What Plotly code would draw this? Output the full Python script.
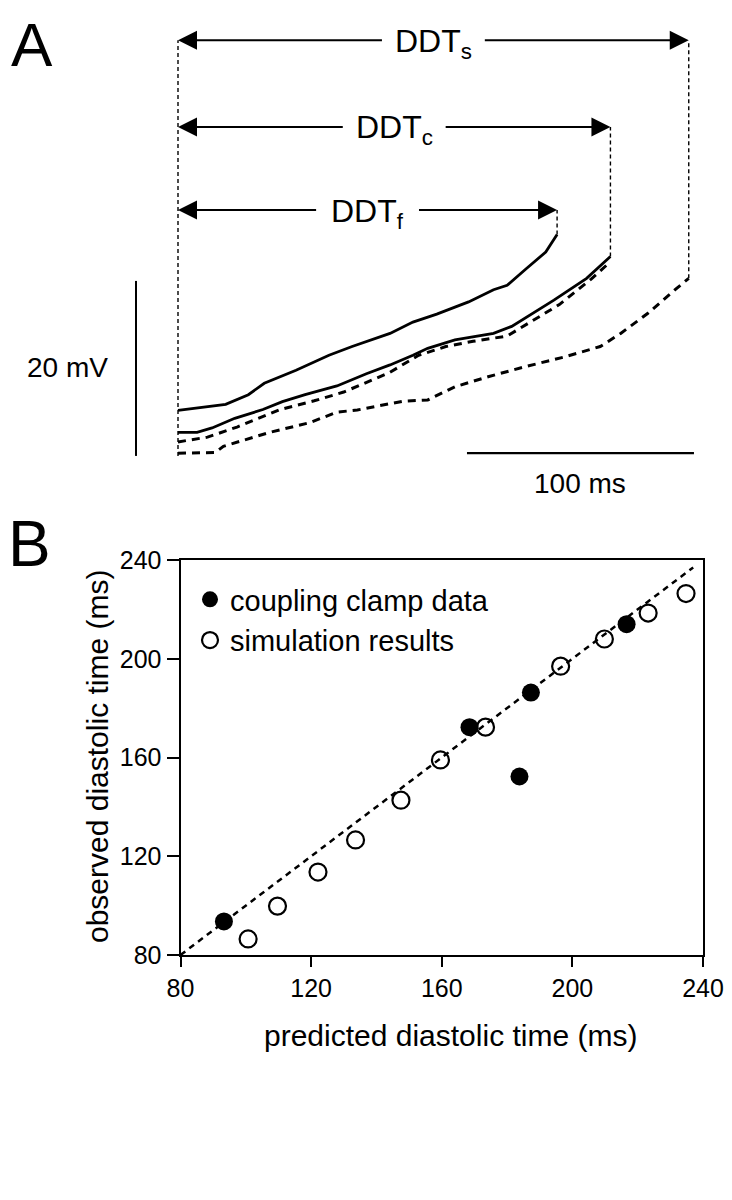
import plotly.graph_objects as go

# ---------------- Panel A data (time in ms from start of diastole, potential in mV) ----------------
t_fast = [0, 17, 21, 31, 38, 52, 66.5, 76.7, 87.2, 93.4, 103.5, 114, 122, 128, 139, 145, 153, 162, 167]
v_fast = [4.9, 5.4, 5.6, 6.7, 8.0, 9.5, 11.2, 12.2, 13.1, 13.7, 15.0, 15.9, 16.7, 17.3, 18.7, 19.2, 21.0, 23.0, 25.0]

t_ctrl = [0, 8.4, 15, 25, 37.4, 46, 56, 70, 83, 93.4, 103.5, 110, 122, 139, 147, 155, 165.6, 180, 190.5]
v_ctrl = [2.4, 2.4, 2.9, 4.0, 5.0, 5.9, 6.7, 7.7, 9.1, 10.1, 11.2, 12.0, 12.95, 13.7, 14.5, 15.8, 17.5, 20.0, 22.5]

t_sim = [0, 13, 26, 45, 60, 73, 93, 106, 118, 130, 145, 155, 168, 182, 190.5]
v_sim = [1.3, 1.85, 3.0, 5.0, 6.0, 7.0, 9.2, 11.2, 12.2, 12.8, 13.4, 15.0, 17.0, 19.9, 21.9]

t_slow = [0, 16.5, 20, 29, 40.5, 58, 70, 79, 99, 110, 122, 136.6, 153, 170, 186, 195, 207, 219, 225]
v_slow = [0, 0.1, 0.8, 1.5, 2.4, 3.5, 4.7, 4.95, 5.95, 6.1, 7.6, 8.75, 9.9, 11.0, 12.2, 13.7, 16.0, 18.7, 20.0]

ddt_labels = ["DDT<sub>f</sub>", "DDT<sub>c</sub>", "DDT<sub>s</sub>"]
ddt_values = [t_fast[-1], t_ctrl[-1], t_slow[-1]]
ddt_ends = [v_fast[-1], v_ctrl[-1], v_slow[-1]]
ddt_levels = [27.8, 37.3, 47.2]   # vertical placement of the arrows (mV units)

scale_ms = 100
scale_mv = 20

# ---------------- Panel B data ----------------
clamp_pred = [93.3, 168.5, 183.8, 187.3, 216.6]
clamp_obs = [93.6, 172.3, 152.3, 186.3, 214.0]
sim_pred = [100.7, 109.7, 122.1, 133.6, 147.5, 159.6, 173.4, 196.4, 209.8, 223.2, 234.8]
sim_obs = [86.5, 99.8, 113.6, 126.6, 142.7, 159.0, 172.3, 197.0, 208.0, 218.5, 226.4]
identity = [80, 237]
b_ticks = [80, 120, 160, 200, 240]

FONT = "Liberation Sans"
W, H = 732, 1200
OFF = 8  # page offset of the plot inside the browser window


def px(sx):
    return (sx - OFF) / W


def py(sy):
    return 1 - (sy - OFF) / H


# panel A scale: screen x = 178 + 2.27*t ; screen y = 453.3 - 8.75*v
A_X0, A_XS = 178.0, 2.27
A_Y0, A_YS = 453.3, 8.75
a_xrange = [(OFF - A_X0) / A_XS, (OFF + W - A_X0) / A_XS]
a_yrange = [(A_Y0 - (OFF + 500)) / A_YS, (A_Y0 - OFF) / A_YS]

fig = go.Figure()

solid = dict(color="black", width=2.8)
dashed = dict(color="black", width=3, dash="8px,6px")
fig.add_trace(go.Scatter(x=t_fast, y=v_fast, mode="lines", line=solid, showlegend=False, xaxis="x", yaxis="y"))
fig.add_trace(go.Scatter(x=t_ctrl, y=v_ctrl, mode="lines", line=solid, showlegend=False, xaxis="x", yaxis="y"))
fig.add_trace(go.Scatter(x=t_sim, y=v_sim, mode="lines", line=dashed, showlegend=False, xaxis="x", yaxis="y"))
fig.add_trace(go.Scatter(x=t_slow, y=v_slow, mode="lines", line=dashed, showlegend=False, xaxis="x", yaxis="y"))

thin_dash = dict(color="black", width=1.4, dash="4px,3px")
fig.add_trace(go.Scatter(x=[0, 0], y=[-0.3, max(ddt_levels)], mode="lines", line=thin_dash,
                         showlegend=False, xaxis="x", yaxis="y"))
for val, v_end, lvl in zip(ddt_values, ddt_ends, ddt_levels):
    fig.add_trace(go.Scatter(x=[val, val], y=[v_end, lvl], mode="lines", line=thin_dash,
                             showlegend=False, xaxis="x", yaxis="y"))

# scale bars
fig.add_trace(go.Scatter(x=[-18.5, -18.5], y=[-0.3, -0.3 + scale_mv], mode="lines",
                         line=dict(color="black", width=2), showlegend=False, xaxis="x", yaxis="y"))
fig.add_trace(go.Scatter(x=[127.3, 127.3 + scale_ms], y=[0.03, 0.03], mode="lines",
                         line=dict(color="black", width=2.2), showlegend=False, xaxis="x", yaxis="y"))

# Panel B
fig.add_trace(go.Scatter(x=identity, y=identity, mode="lines",
                         line=dict(color="black", width=2.5, dash="6px,5px"),
                         showlegend=False, xaxis="x2", yaxis="y2"))
fig.add_trace(go.Scatter(x=clamp_pred, y=clamp_obs, mode="markers", name="coupling clamp data",
                         marker=dict(symbol="circle", size=18, color="black"),
                         xaxis="x2", yaxis="y2"))
fig.add_trace(go.Scatter(x=sim_pred, y=sim_obs, mode="markers", name="simulation results",
                         marker=dict(symbol="circle-open", size=17, color="black", line=dict(width=2.2)),
                         xaxis="x2", yaxis="y2"))

annotations = []
half_gap = 22
for lab, val, lvl in zip(ddt_labels, ddt_values, ddt_levels):
    mid = val / 2
    annotations.append(dict(x=0, y=lvl, ax=mid - half_gap, ay=lvl, xref="x", yref="y", axref="x", ayref="y",
                            text="", showarrow=True, arrowhead=2, arrowsize=1.9, arrowwidth=2, arrowcolor="black"))
    annotations.append(dict(x=val, y=lvl, ax=mid + half_gap, ay=lvl, xref="x", yref="y", axref="x", ayref="y",
                            text="", showarrow=True, arrowhead=2, arrowsize=1.9, arrowwidth=2, arrowcolor="black"))
    annotations.append(dict(x=mid, y=lvl, xref="x", yref="y", text=lab, showarrow=False,
                            xanchor="center", yanchor="middle",
                            font=dict(family=FONT, size=32, color="black"), yshift=-3))

annotations += [
    dict(x=-48.5, y=9.75, xref="x", yref="y", text="20 mV", showarrow=False,
         xanchor="center", yanchor="middle", font=dict(family=FONT, size=28, color="black")),
    dict(x=177, y=-3.4, xref="x", yref="y", text="100 ms", showarrow=False,
         xanchor="center", yanchor="middle", font=dict(family=FONT, size=28, color="black")),
    dict(x=px(9), y=1, xref="paper", yref="paper", text="A", showarrow=False,
         xanchor="left", yanchor="top", font=dict(family=FONT, size=62, color="black")),
    dict(x=px(6), y=py(544), xref="paper", yref="paper", text="B", showarrow=False,
         xanchor="left", yanchor="middle", font=dict(family=FONT, size=64, color="black")),
    dict(x=px(450), y=py(1035), xref="paper", yref="paper", text="predicted diastolic time (ms)",
         showarrow=False, xanchor="center", yanchor="middle", font=dict(family=FONT, size=30, color="black")),
    dict(x=px(97), y=py(757), xref="paper", yref="paper", text="observed diastolic time (ms)",
         showarrow=False, textangle=-90, xanchor="center", yanchor="middle",
         font=dict(family=FONT, size=30, color="black")),
]

fig.update_layout(
    width=W, height=H,
    autosize=False,
    margin=dict(l=0, r=0, t=0, b=0, pad=0, autoexpand=False),
    paper_bgcolor="white", plot_bgcolor="white",
    xaxis=dict(domain=[0, 1], range=a_xrange, visible=False, fixedrange=True),
    yaxis=dict(domain=[py(OFF + 500), 1], range=a_yrange, visible=False, fixedrange=True),
    xaxis2=dict(domain=[px(180.5), px(703)], range=[80, 240], anchor="y2",
                tickvals=b_ticks, ticks="outside", ticklen=10, tickwidth=2, tickcolor="black",
                showline=True, linecolor="black", linewidth=2, mirror=True, showgrid=False, zeroline=False,
                tickfont=dict(family=FONT, size=25, color="black")),
    yaxis2=dict(domain=[py(955), py(560)], range=[80, 240], anchor="x2",
                tickvals=b_ticks, ticks="outside", ticklen=12, tickwidth=2, tickcolor="black",
                showline=True, linecolor="black", linewidth=2, mirror=True, showgrid=False, zeroline=False,
                tickfont=dict(family=FONT, size=25, color="black")),
    legend=dict(x=px(190), y=py(574), xanchor="left", yanchor="top", bgcolor="rgba(0,0,0,0)",
                font=dict(family=FONT, size=29, color="black"), itemsizing="trace", tracegroupgap=0),
    annotations=annotations,
)

fig.write_html("out.html")
